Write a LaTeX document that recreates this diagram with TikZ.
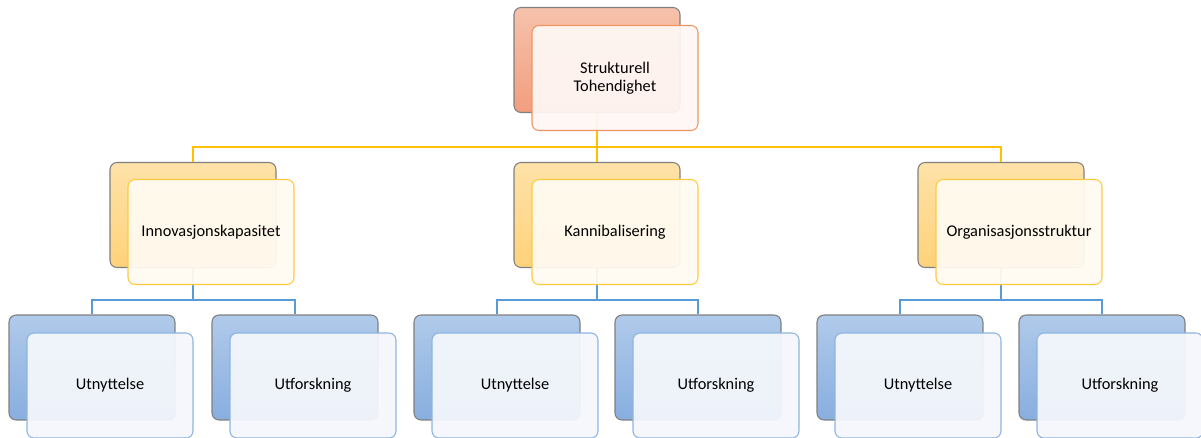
\documentclass[tikz,border=0pt]{standalone}
\usepackage{fontspec}
\setmainfont{Carlito}
\definecolor{salmonTop}{HTML}{F6C2AC}
\definecolor{salmonBot}{HTML}{F29E7D}
\definecolor{salmonEdge}{HTML}{EE9563}
\definecolor{salmonFill}{HTML}{FEF7F4}
\definecolor{goldTop}{HTML}{FEE2A8}
\definecolor{goldBot}{HTML}{FFD27A}
\definecolor{goldEdge}{HTML}{FFC93F}
\definecolor{goldFill}{HTML}{FFFBF1}
\definecolor{goldLink}{HTML}{FFC000}
\definecolor{blueTop}{HTML}{B0CAEA}
\definecolor{blueBot}{HTML}{88AEDF}
\definecolor{blueEdge}{HTML}{8DB4E2}
\definecolor{blueFill}{HTML}{F4F7FC}
\definecolor{blueLink}{HTML}{5B9BD5}
\definecolor{backEdge}{HTML}{7F7F7F}
\tikzset{
  card/.style={rounded corners=4pt, line width=0.6pt,
    minimum width=3.32cm, minimum height=2.1cm, inner sep=0pt},
  back/.style={card, draw=backEdge, top color=#1Top, bottom color=#1Bot},
  front/.style={card, draw=#1Edge, fill=#1Fill, fill opacity=0.94,
    text opacity=1, align=center, font=\fontsize{9.3}{10.2}\selectfont},
  link/.style={line width=1.1pt, draw=#1}
}
\begin{document}
\begin{tikzpicture}[x=0.02cm, y=-0.02cm]
  \useasboundingbox (0,0) rectangle (1201,437);
  \clip (0,0) rectangle (1201,437);
  \coordinate (goldBus) at (0,147);
  \coordinate (blueBus) at (0,300);

  \node[back=salmon] (topB) at (597,60) {};
  \node[back=gold] (innovB) at (193,215) {};
  \node[back=gold] (kanniB) at (597,215) {};
  \node[back=gold] (orgB) at (1001,215) {};
  \node[back=blue] (innovUB) at (92,367.5) {};
  \node[back=blue] (innovFB) at (295,367.5) {};
  \node[back=blue] (kanniUB) at (497,367.5) {};
  \node[back=blue] (kanniFB) at (698,367.5) {};
  \node[back=blue] (orgUB) at (900,367.5) {};
  \node[back=blue] (orgFB) at (1102,367.5) {};

  \draw[link=goldLink] (topB.south) -- (topB.south |- goldBus);
  \draw[link=goldLink] (innovB.north) |- (orgB.north |- goldBus) -- (orgB.north);
  \draw[link=goldLink] (kanniB.north) -- (kanniB.north |- goldBus);
  \draw[link=blueLink] (innovB.south) -- (innovB.south |- blueBus);
  \draw[link=blueLink] (innovUB.north) |- (innovFB.north |- blueBus) -- (innovFB.north);
  \draw[link=blueLink] (kanniB.south) -- (kanniB.south |- blueBus);
  \draw[link=blueLink] (kanniUB.north) |- (kanniFB.north |- blueBus) -- (kanniFB.north);
  \draw[link=blueLink] (orgB.south) -- (orgB.south |- blueBus);
  \draw[link=blueLink] (orgUB.north) |- (orgFB.north |- blueBus) -- (orgFB.north);

  \node[front=salmon] (topF) at ([shift={(18,18)}]topB) {Strukturell\\Tohendighet};
  \node[front=gold] (innovF) at ([shift={(18,17)}]innovB) {Innovasjonskapasitet};
  \node[front=gold] (kanniF) at ([shift={(18,17)}]kanniB) {Kannibalisering};
  \node[front=gold] (orgF) at ([shift={(18,17)}]orgB) {Organisasjonsstruktur};
  \node[front=blue] (innovUF) at ([shift={(18,18)}]innovUB) {Utnyttelse};
  \node[front=blue] (innovFF) at ([shift={(18,18)}]innovFB) {Utforskning};
  \node[front=blue] (kanniUF) at ([shift={(18,18)}]kanniUB) {Utnyttelse};
  \node[front=blue] (kanniFF) at ([shift={(18,18)}]kanniFB) {Utforskning};
  \node[front=blue] (orgUF) at ([shift={(18,18)}]orgUB) {Utnyttelse};
  \node[front=blue] (orgFF) at ([shift={(18,18)}]orgFB) {Utforskning};
\end{tikzpicture}
\end{document}
